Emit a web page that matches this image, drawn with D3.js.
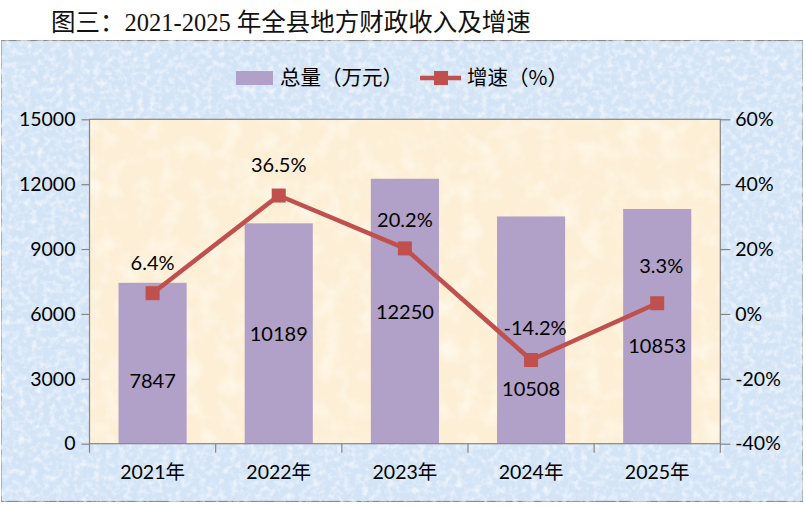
<!DOCTYPE html>
<html>
<head>
<meta charset="utf-8">
<script src="https://cdn.jsdelivr.net/npm/d3@7"></script>
<style>
  body { margin: 0; background: #fff; }
  svg { display: block; }
</style>
</head>
<body>
<script>
// chart data
const years = ['2021年', '2022年', '2023年', '2024年', '2025年'];
const totals = [7440, 10189, 12250, 10508, 10853];      // bar heights (万元)
const totalLabels = ['7847', '10189', '12250', '10508', '10853'];
const growth = [6.4, 36.5, 20.2, -14.2, 3.3];            // %
const leftTicks = [0, 3000, 6000, 9000, 12000, 15000];
const rightTicks = [-40, -20, 0, 20, 40, 60];

// label nudges (px) to follow the hand placed labels of the original
const barLabelShift = [18, 0, 1, 59, 19];
const lineLabelShift = [-30, -31, -29, -32, -37];

const W = 806, H = 507;
const barColor = '#b1a0c7';
const lineColor = '#c0504d';
const axisColor = '#868686';
const numFont = 'Lato, "Liberation Sans", sans-serif';
const cjkFont = '"Noto Sans CJK SC", sans-serif';

const svg = d3.select('body').append('svg')
  .attr('width', W)
  .attr('height', H);

// textures for the blue frame and the cream plot area
const defs = svg.append('defs');
function paperFilter(id, freq, seed, rgb, a, b) {
  const f = defs.append('filter').attr('id', id)
    .attr('x', 0).attr('y', 0).attr('width', 1).attr('height', 1);
  f.append('feTurbulence')
    .attr('type', 'fractalNoise')
    .attr('baseFrequency', freq)
    .attr('numOctaves', 3)
    .attr('seed', seed)
    .attr('result', 'n');
  f.append('feColorMatrix')
    .attr('in', 'n')
    .attr('type', 'matrix')
    .attr('values', `0 0 0 0 ${rgb[0]}  0 0 0 0 ${rgb[1]}  0 0 0 0 ${rgb[2]}  0 0 0 ${a} ${b}`)
    .attr('result', 'speck');
  f.append('feComposite')
    .attr('in', 'speck').attr('in2', 'SourceGraphic').attr('operator', 'in')
    .attr('result', 'spk');
  const m = f.append('feMerge');
  m.append('feMergeNode').attr('in', 'SourceGraphic');
  m.append('feMergeNode').attr('in', 'spk');
}
paperFilter('paper', 0.16, 4, [1, 1, 1], -1.4, 0.8);
paperFilter('cream', 0.05, 9, [1, 0.98, 0.92], -1.2, 0.7);

// title (outside the frame)
svg.append('text')
  .attr('x', 51)
  .attr('y', 31)
  .attr('font-family', '"Liberation Serif", "Noto Sans CJK SC", serif')
  .attr('font-size', 24.5)
  .attr('fill', '#111')
  .text('图三：2021-2025 年全县地方财政收入及增速');

// outer frame
svg.append('rect')
  .attr('x', 1).attr('y', 40.5)
  .attr('width', 802).attr('height', 461)
  .attr('fill', '#d3e4f7')
  .attr('stroke', '#8a8a8a')
  .attr('stroke-width', 1.2)
  .attr('filter', 'url(#paper)');

const plot = { left: 89.5, right: 720.3, top: 119.3, bottom: 443.7 };

const x = d3.scaleBand()
  .domain(years)
  .range([plot.left, plot.right]);
const yL = d3.scaleLinear()
  .domain([0, 15000])
  .range([plot.bottom, plot.top]);
const yR = d3.scaleLinear()
  .domain([-40, 60])
  .range([plot.bottom, plot.top]);

// plot area
svg.append('rect')
  .attr('x', plot.left).attr('y', plot.top)
  .attr('width', plot.right - plot.left)
  .attr('height', plot.bottom - plot.top)
  .attr('fill', '#fdefd5')
  .attr('filter', 'url(#cream)');

// bars
const barW = x.bandwidth() * 0.54;
const cx = (d) => x(d) + x.bandwidth() / 2;

svg.append('g').selectAll('rect')
  .data(years)
  .join('rect')
  .attr('x', (d) => cx(d) - barW / 2)
  .attr('y', (d, i) => yL(totals[i]))
  .attr('width', barW)
  .attr('height', (d, i) => yL(0) - yL(totals[i]))
  .attr('fill', barColor);

// plot border + axes
svg.append('rect')
  .attr('x', plot.left).attr('y', plot.top)
  .attr('width', plot.right - plot.left)
  .attr('height', plot.bottom - plot.top)
  .attr('fill', 'none')
  .attr('stroke', axisColor)
  .attr('stroke-width', 1.2);

const axL = svg.append('g')
  .attr('transform', `translate(${plot.left},0)`)
  .call(d3.axisLeft(yL).tickValues(leftTicks).tickSize(8).tickPadding(6)
    .tickFormat(d3.format('d')));
const axR = svg.append('g')
  .attr('transform', `translate(${plot.right},0)`)
  .call(d3.axisRight(yR).tickValues(rightTicks).tickSize(10).tickPadding(5)
    .tickFormat((d) => d + '%'));

[axL, axR].forEach((ax) => {
  ax.select('.domain').remove();
  ax.selectAll('line').attr('stroke', axisColor).attr('stroke-width', 1.2);
  ax.selectAll('text')
    .attr('font-family', numFont)
    .attr('font-size', 19.5)
    .attr('fill', '#000');
});

// category axis: ticks between categories, labels centred
const boundaries = years.map((d) => x(d)).concat([plot.right]);
svg.append('g').selectAll('line')
  .data(boundaries)
  .join('line')
  .attr('x1', (d) => d).attr('x2', (d) => d)
  .attr('y1', plot.bottom).attr('y2', plot.bottom + 9)
  .attr('stroke', axisColor)
  .attr('stroke-width', 1.2);

svg.append('g').selectAll('text')
  .data(years)
  .join('text')
  .attr('x', cx)
  .attr('y', 472)
  .attr('dy', '0.36em')
  .attr('text-anchor', 'middle')
  .attr('font-family', '"Lato", "Noto Sans CJK SC", sans-serif')
  .attr('font-size', 19.5)
  .attr('fill', '#000')
  .text((d) => d);

// bar value labels
svg.append('g').selectAll('text')
  .data(years)
  .join('text')
  .attr('x', cx)
  .attr('y', (d, i) => (yL(totals[i]) + yL(0)) / 2 + barLabelShift[i])
  .attr('dy', '0.36em')
  .attr('text-anchor', 'middle')
  .attr('font-family', numFont)
  .attr('font-size', 20)
  .attr('fill', '#000')
  .text((d, i) => totalLabels[i]);

// growth line
const line = d3.line()
  .x((d, i) => cx(years[i]))
  .y((d) => yR(d));

svg.append('path')
  .datum(growth)
  .attr('d', line)
  .attr('fill', 'none')
  .attr('stroke', lineColor)
  .attr('stroke-width', 4.5)
  .attr('stroke-linejoin', 'round');

const mk = 14;
svg.append('g').selectAll('rect')
  .data(growth)
  .join('rect')
  .attr('x', (d, i) => cx(years[i]) - mk / 2)
  .attr('y', (d) => yR(d) - mk / 2)
  .attr('width', mk)
  .attr('height', mk)
  .attr('fill', lineColor);

svg.append('g').selectAll('text')
  .data(growth)
  .join('text')
  .attr('x', (d, i) => cx(years[i]) + (i >= 3 ? 4 : 0))
  .attr('y', (d, i) => yR(d) + lineLabelShift[i])
  .attr('dy', '0.36em')
  .attr('text-anchor', 'middle')
  .attr('font-family', numFont)
  .attr('font-size', 20)
  .attr('fill', '#000')
  .text((d) => d.toFixed(1) + '%');

// legend
const lg = svg.append('g');
lg.append('rect')
  .attr('x', 236).attr('y', 71)
  .attr('width', 37).attr('height', 14)
  .attr('fill', barColor);
lg.append('text')
  .attr('x', 280).attr('y', 78)
  .attr('dy', '0.36em')
  .attr('font-family', cjkFont)
  .attr('font-size', 20.5)
  .attr('fill', '#000')
  .text('总量（万元）');
lg.append('line')
  .attr('x1', 420).attr('x2', 461)
  .attr('y1', 78).attr('y2', 78)
  .attr('stroke', lineColor)
  .attr('stroke-width', 4.5);
lg.append('rect')
  .attr('x', 441 - mk / 2).attr('y', 78 - mk / 2)
  .attr('width', mk).attr('height', mk)
  .attr('fill', lineColor);
lg.append('text')
  .attr('x', 467).attr('y', 78)
  .attr('dy', '0.36em')
  .attr('font-family', cjkFont)
  .attr('font-size', 20.5)
  .attr('fill', '#000')
  .text('增速（%）');
</script>
</body>
</html>
